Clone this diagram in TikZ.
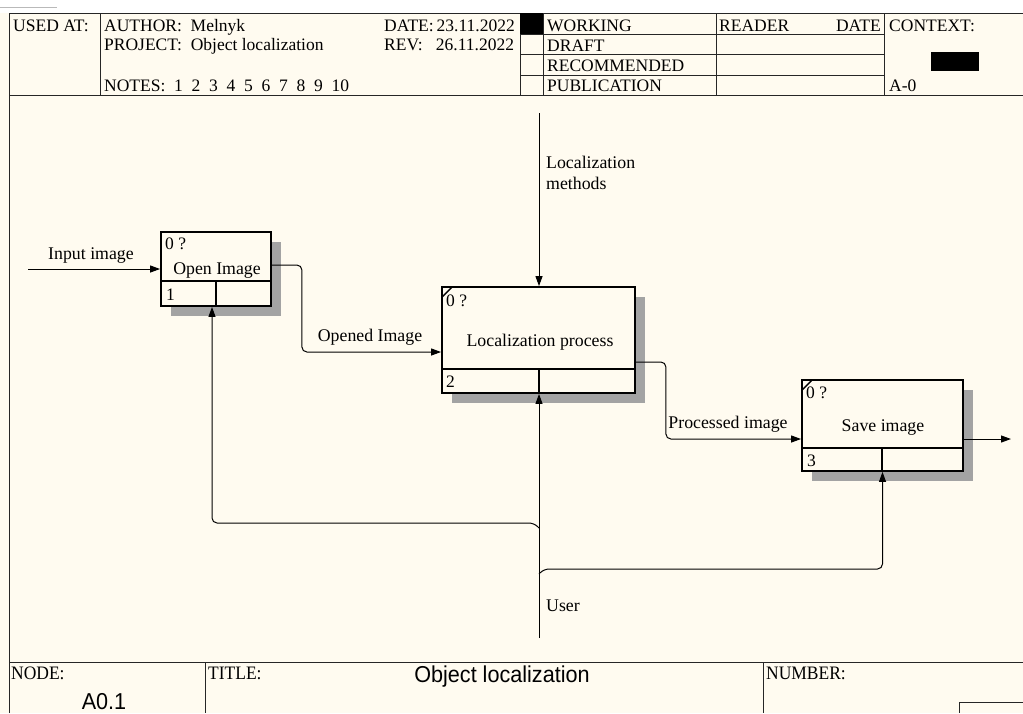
\documentclass[tikz,border=0pt]{standalone}
\usepackage{fontspec}
\setmainfont{Liberation Serif}
\newfontfamily\sansf{Liberation Sans}
\usetikzlibrary{arrows.meta,calc,shadows}
\definecolor{bg}{HTML}{FFFBF0}
\definecolor{shd}{gray}{0.64}
\begin{document}
\begin{tikzpicture}[x=1pt,y=-1pt,
  hdr/.style={font=\fontsize{17.5}{20}\selectfont, inner sep=0pt, anchor=base west},
  ftr/.style={font=\fontsize{19}{22}\selectfont, inner sep=0pt, anchor=base west},
  lbl/.style={font=\fontsize{17.8}{21}\selectfont, inner sep=0pt, yshift=-2.5pt},
  small/.style={font=\fontsize{17.5}{20}\selectfont, inner sep=0pt, anchor=west, yshift=-1pt},
  frame/.style={draw=black!85, line width=1pt},
  actbox/.style={draw, line width=1.8pt, fill=bg, inner sep=0pt,
    drop shadow={shadow xshift=10pt, shadow yshift=-10pt, fill=shd, opacity=1}},
  inner/.style={draw, line width=1.8pt},
  conn/.style={draw, line width=1pt, rounded corners=5pt},
  arr/.style={conn, -{Triangle[length=10pt,width=7pt]}},
]
\useasboundingbox (0,0) rectangle (1023,713);
\fill[white] (0,0) rectangle (1023,13);
\fill[bg] (0,13) rectangle (1023,713);
\draw[gray!55, line width=1pt] (0,7) -- (57,7);

% ---------- header frame ----------
\draw[frame] (9,713) -- (9,13) -- (1023,13);
\draw[frame] (9,95) -- (1023,95);
\draw[frame] (100,13) -- (100,95);
\draw[frame] (520,13) -- (520,95);
\draw[frame] (543,13) -- (543,95);
\draw[frame] (716,13) -- (716,95);
\draw[frame] (884,13) -- (884,95);
\draw[frame] (520,34) -- (884,34);
\draw[frame] (520,54) -- (884,54);
\draw[frame] (520,75) -- (884,75);
\fill[black] (520,13) rectangle (543,34);
\fill[black] (931,52) rectangle (979,71);

\node[hdr] (usedat) at (13,31) {USED AT:};
\node[hdr] (author) at (104,31) {AUTHOR:\ \ Melnyk};
\node[hdr] (project) at (104,50) {PROJECT:\ \ Object localization};
\node[hdr] (notes) at (104,91) {NOTES:\ \ 1\ \ 2\ \ 3\ \ 4\ \ 5\ \ 6\ \ 7\ \ 8\ \ 9\ \ 10};
\node[hdr] (date) at (384,31) {DATE:\,23.11.2022};
\node[hdr] (rev) at (384,50) {REV:\ \ \ 26.11.2022};
\node[hdr] (working) at (547,31) {WORKING};
\node[hdr] (draft) at (547,51) {DRAFT};
\node[hdr] (recom) at (547,71) {RECOMMENDED};
\node[hdr] (publ) at (547,91) {PUBLICATION};
\node[hdr] (reader) at (719,31) {READER};
\node[hdr, anchor=base east] (rdate) at (881,31) {DATE};
\node[hdr] (context) at (889,31) {CONTEXT:};
\node[hdr] (a0) at (889,91) {A-0};

% ---------- footer ----------
\draw[frame] (9,662) -- (1023,662);
\draw[frame] (205,662) -- (205,713);
\draw[frame] (763,662) -- (763,713);
\draw[frame] (1023,702) -- (959,702) -- (959,713);
\node[ftr] (nodelbl) at (11,679) {\scalebox{0.92}[1]{NODE:}};
\node[ftr] (titlelbl) at (208,679) {\scalebox{0.92}[1]{TITLE:}};
\node[ftr] (numlbl) at (766,679) {\scalebox{0.92}[1]{NUMBER:}};
\node[inner sep=0pt, font=\sansf\fontsize{23}{26}\selectfont] (title) at (502,677) {\scalebox{0.94}[1]{Object localization}};
\node[inner sep=0pt, font=\sansf\fontsize{23}{26}\selectfont] (nodeid) at (104,702) {\scalebox{0.94}[1]{A0.1}};

% ---------- activity boxes ----------
\node[actbox, minimum width=110pt, minimum height=74pt] (b1) at (216,269) {};
\node[actbox, minimum width=193pt, minimum height=106pt] (b2) at (538.5,340) {};
\node[actbox, minimum width=161pt, minimum height=91pt] (b3) at (882.5,425.5) {};

\draw[inner] (161,281) -- (271,281) (216,281) -- (216,306);
\draw[inner] (442,369) -- (635,369) (539,369) -- (539,393);
\draw[inner] (802,448) -- (963,448) (882,448) -- (882,471);
\draw[line width=1.4pt] (442,297) -- (452,287);
\draw[line width=1.4pt] (802,390) -- (812,380);

\node[small] (b1n) at (165,243) {0 ?};
\node[small] (b1i) at (166,294) {1};
\node[lbl] (b1t) at (217,268) {Open Image};
\node[small] (b2n) at (446,300) {0 ?};
\node[small] (b2i) at (446,381) {2};
\node[lbl] (b2t) at (540,340) {Localization process};
\node[small] (b3n) at (806,392) {0 ?};
\node[small] (b3i) at (807,460) {3};
\node[lbl] (b3t) at (883,425) {Save image};

% ---------- connectors ----------
\coordinate (inp) at (28,269);
\coordinate (out) at (1011,439);
\coordinate (ctl) at (539,113);
\coordinate (usr) at (539,638);
\coordinate (j1) at (539,528);
\coordinate (j2) at (539,574);

\draw[arr] (inp) -- (b1.west);
\draw[arr] ([yshift=4pt]b1.east) -- ++(30,0) |- ([yshift=-12pt]b2.west);
\draw[arr] ([yshift=-22pt]b2.east) -- ++(30,0) |- ([yshift=-13.5pt]b3.west);
\draw[arr] ([yshift=-13.5pt]b3.east) -- (out);
\draw[arr] (ctl) -- (ctl |- b2.north);
\draw[arr] (usr) -- (usr |- b2.south);
\draw[arr] (j1) -- ++(-5,-5) -| ([xshift=-4pt]b1.south);
\draw[arr] (j2) -- ++(5,-5) -| (b3.south);

\node[lbl] (linp) at (91,253) {Input image};
\node[lbl] (lopen) at (370,335) {Opened Image};
\node[lbl] (lproc) at (728,422) {Processed image};
\node[lbl, anchor=north west, align=left, yshift=2.5pt] (lctl) at (546,156) {Localization\\methods};
\node[lbl] (lusr) at (563,603) {User};
\end{tikzpicture}
\end{document}
